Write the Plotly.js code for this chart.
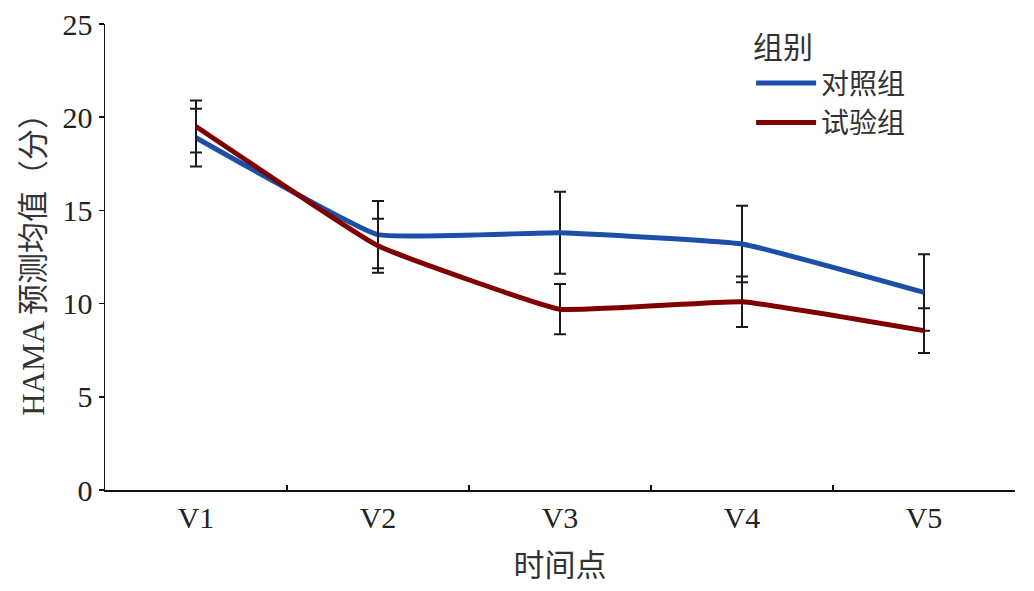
<!DOCTYPE html>
<html>
<head>
<meta charset="utf-8">
<script src="https://cdn.plot.ly/plotly-3.0.1.min.js"></script>
<style>html,body{margin:0;padding:0;background:#fff;}#chart{width:1034px;height:591px;}</style>
</head>
<body>
<div id="chart"></div>
<script>
const categories = ['V1', 'V2', 'V3', 'V4', 'V5'];
const controlName = '对照组';
const controlMean = [18.9, 13.7, 13.8, 13.2, 10.6];
const controlSD = [1.55, 1.8, 2.2, 2.05, 2.05];
const trialName = '试验组';
const trialMean = [19.5, 13.1, 9.7, 10.1, 8.55];
const trialSD = [1.4, 1.45, 1.35, 1.35, 1.2];
const yTicks = [0, 5, 10, 15, 20, 25];

const FONT = 'Liberation Serif, "Noto Sans CJK SC", serif';

function makeTrace(name, mean, sd, color) {
  return {
    type: 'scatter',
    mode: 'lines',
    name: name,
    x: categories,
    y: mean,
    line: {color: color, width: 5, shape: 'spline', smoothing: 0.3},
    error_y: {type: 'data', array: sd, symmetric: true, visible: true,
              color: '#1a1a1a', thickness: 2, width: 6}
  };
}

const data = [
  makeTrace(controlName, controlMean, controlSD, '#1b4fa8'),
  makeTrace(trialName, trialMean, trialSD, '#800000')
];

const layout = {
  width: 1034, height: 591,
  margin: {l: 105, r: 19, t: 24, b: 101, pad: 0},
  paper_bgcolor: '#ffffff', plot_bgcolor: '#ffffff',
  font: {family: FONT, color: '#222222', size: 30},
  showlegend: true,
  legend: {
    title: {text: '组别', font: {size: 30, color: '#333333'}},
    font: {size: 28, color: '#333333'},
    x: 0.71, y: 1.01, xanchor: 'left', yanchor: 'top',
    bgcolor: 'rgba(0,0,0,0)', tracegroupgap: 0, itemwidth: 60
  },
  xaxis: {
    type: 'category', range: [-0.5, 4.5],
    showline: true, linecolor: '#111', linewidth: 1.5, mirror: false,
    ticks: 'inside', tickson: 'boundaries', ticklen: 5, tickwidth: 1.5, tickcolor: '#111',
    showgrid: false, zeroline: false,
    tickfont: {size: 30, family: FONT, color: '#222'},
    title: {text: '时间点', font: {size: 31, family: FONT, color: '#333'}, standoff: 22}
  },
  yaxis: {
    range: [0, 25], tickvals: yTicks, ticktext: yTicks.map(String),
    showline: true, linecolor: '#111', linewidth: 1.5,
    ticks: 'outside', ticklen: 5, tickwidth: 1.5, tickcolor: '#111',
    showgrid: false, zeroline: false,
    tickfont: {size: 30, family: FONT, color: '#222'},
    title: {text: 'HAMA 预测均值（分）', font: {size: 31, family: FONT, color: '#333'}, standoff: 8}
  }
};

Plotly.newPlot('chart', data, layout, {displayModeBar: false, staticPlot: true});
</script>
</body>
</html>
